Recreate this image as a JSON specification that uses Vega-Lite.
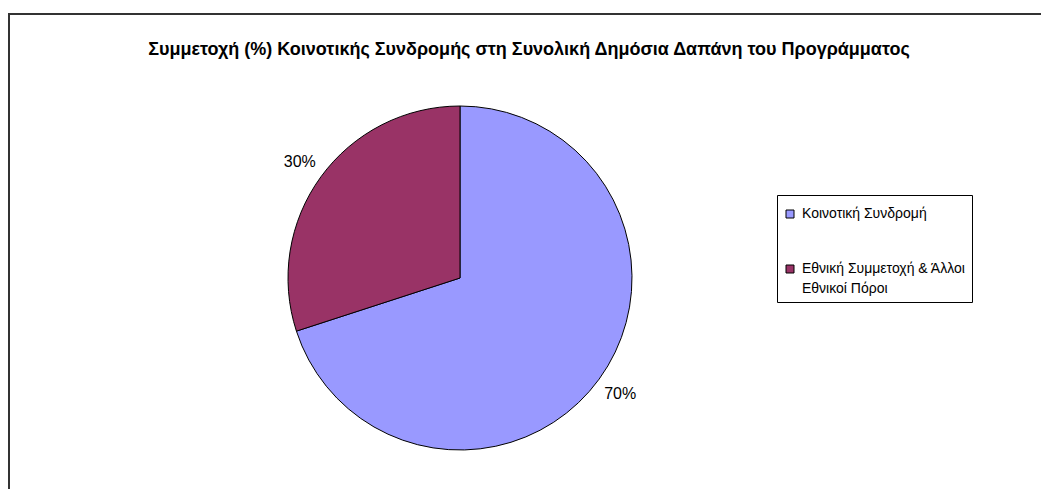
{
  "$schema": "https://vega.github.io/schema/vega-lite/v6.json",
  "width": 1040,
  "height": 480,
  "autosize": {"type": "none"},
  "padding": {"left": 9, "top": 14, "right": -8, "bottom": -5},
  "background": "white",
  "view": {"stroke": "#333333", "strokeWidth": 2, "fill": "white"},
  "title": {
    "text": "Συμμετοχή (%) Κοινοτικής Συνδρομής στη Συνολική Δημόσια Δαπάνη του Προγράμματος",
    "font": "Liberation Sans",
    "fontSize": 18,
    "fontWeight": "bold",
    "color": "black",
    "anchor": "middle",
    "frame": "group",
    "offset": -45
  },
  "config": {
    "font": "Liberation Sans",
    "style": {"guide-label": {"lineHeight": 20}}
  },
  "data": {
    "values": [
      {"category": "Κοινοτική Συνδρομή", "share": 70, "label": "70%"},
      {"category": "Εθνική Συμμετοχή & Άλλοι Εθνικοί Πόροι", "share": 30, "label": "30%"}
    ]
  },
  "encoding": {
    "theta": {"field": "share", "type": "quantitative", "stack": true},
    "order": {"field": "share", "type": "quantitative", "sort": "descending"}
  },
  "layer": [
    {
      "mark": {"type": "arc", "outerRadius": 172, "stroke": "black", "strokeWidth": 1, "xOffset": -69, "yOffset": 24},
      "encoding": {
        "color": {
          "field": "category",
          "type": "nominal",
          "scale": {
            "domain": ["Κοινοτική Συνδρομή", "Εθνική Συμμετοχή & Άλλοι Εθνικοί Πόροι"],
            "range": ["#9999FF", "#993366"]
          },
          "legend": {
            "title": " ",
            "titleFontSize": 4,
            "titlePadding": 2,
            "orient": "none",
            "legendX": 768,
            "legendY": 181,
            "direction": "vertical",
            "strokeColor": "black",
            "fillColor": "white",
            "padding": 6,
            "symbolType": "square",
            "symbolSize": 64,
            "symbolStrokeColor": "black",
            "symbolStrokeWidth": 1,
            "labelFont": "Liberation Sans",
            "labelFontSize": 14,
            "labelColor": "black",
            "labelOffset": 5,
            "labelLimit": 400,
            "rowPadding": 41,
            "labelExpr": "datum.label == 'Εθνική Συμμετοχή & Άλλοι Εθνικοί Πόροι' ? ['Εθνική Συμμετοχή & Άλλοι', 'Εθνικοί Πόροι'] : datum.label"
          }
        }
      }
    },
    {
      "mark": {"type": "text", "radius": 198, "font": "Liberation Sans", "fontSize": 16, "color": "black", "xOffset": -69, "yOffset": 24},
      "encoding": {
        "text": {"field": "label", "type": "nominal"}
      }
    }
  ]
}
